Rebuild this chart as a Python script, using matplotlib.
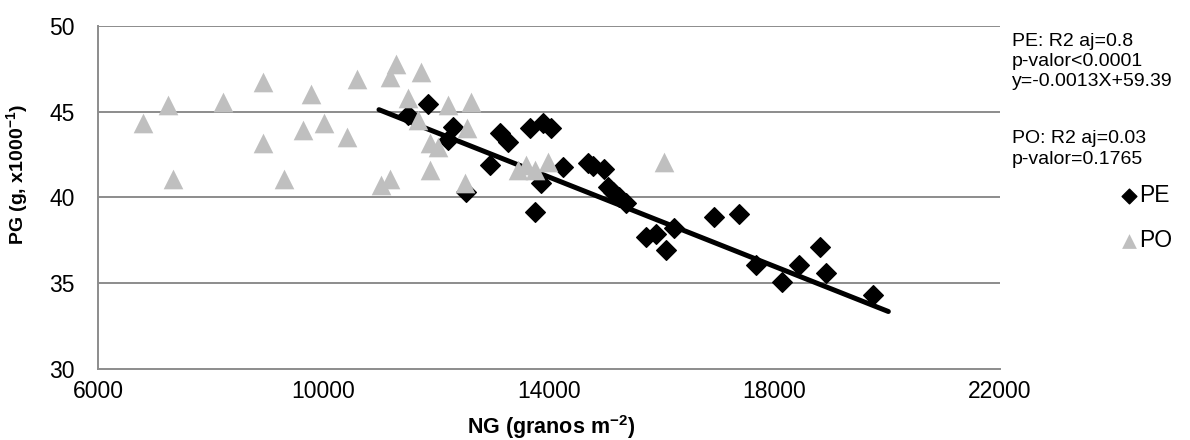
import numpy as np
import matplotlib
matplotlib.use('Agg')
import matplotlib.pyplot as plt

plt.rcParams['font.family'] = ['Liberation Sans', 'DejaVu Sans']
plt.rcParams['mathtext.fontset'] = 'custom'
plt.rcParams['mathtext.rm'] = 'Liberation Sans'
plt.rcParams['mathtext.bf'] = 'Liberation Sans:bold'

# PE series (NG, PG)
pe_ng = [11852, 11498, 12295, 12207, 13123, 13270, 13654, 13890, 14039, 12945,
         12533, 13861, 13743, 14244, 14687, 14776, 14983, 15041, 15130, 15249,
         15367, 15722, 15899, 16076, 16223, 16932, 17375, 17671, 18142, 18438,
         18805, 18912, 19749]
pe_pg = [45.44, 44.80, 44.12, 43.35, 43.74, 43.25, 44.03, 44.32, 44.03, 41.89,
         40.34, 40.83, 39.17, 41.79, 41.99, 41.83, 41.64, 40.63, 40.34, 40.05,
         39.70, 37.72, 37.88, 36.94, 38.21, 38.88, 39.04, 36.07, 35.10, 36.07,
         37.14, 35.62, 34.32]

# PO series (NG, PG)
po_ng = [6803, 7246, 7334, 8220, 8929, 8918, 9296, 9786, 9638, 10004,
         10417, 10594, 11280, 11174, 11027, 11174, 11735, 11498, 11675, 11882,
         11882, 12029, 12207, 12621, 12543, 12502, 13447, 13596, 13743, 13979,
         16034]
po_pg = [44.35, 45.38, 41.08, 45.58, 46.74, 43.19, 41.08, 46.02, 43.93, 44.32,
         43.54, 46.88, 47.77, 47.03, 40.73, 41.06, 47.32, 45.81, 44.51, 41.60,
         43.15, 42.96, 45.38, 45.58, 44.03, 40.86, 41.60, 41.89, 41.60, 42.08,
         42.08]

# PE linear fit
pe_slope = -0.0013
pe_intercept = 59.39
pe_fit_range = [10984, 20020]

x_ticks = [6000, 10000, 14000, 18000, 22000]
y_ticks = [30, 35, 40, 45, 50]

fig = plt.figure(figsize=(11.9, 4.4), dpi=100)
ax = fig.add_axes([0.0824, 0.1607, 0.7579, 0.7809])

grid_c = '#8c8c8c'
for yv in y_ticks[1:]:
    ax.axhline(yv, color=grid_c, lw=1.4, zorder=0)

ax.scatter(pe_ng, pe_pg, marker='D', s=100, color='black', zorder=2, label='PE')
fx = np.array(pe_fit_range)
ax.plot(fx, pe_slope * fx + pe_intercept, color='black', lw=3.6,
        solid_capstyle='round', zorder=3)
ax.scatter(po_ng, po_pg, marker='^', s=200, color='#bfbfbf', zorder=4,
           linewidths=0, label='PO')

ax.set_xlim(6000, 22000)
ax.set_ylim(30, 50)
ax.set_xticks(x_ticks)
ax.set_yticks(y_ticks)
ax.tick_params(length=0, labelsize=16.5)
ax.tick_params(axis='y', pad=17)
ax.tick_params(axis='x', pad=8)
for s in ['top', 'right']:
    ax.spines[s].set_visible(False)
for s in ['left', 'bottom']:
    ax.spines[s].set_color(grid_c)
    ax.spines[s].set_linewidth(1.4)

fig.text(551 / 1190, 1 - 434 / 440, r'NG (granos m$^{\mathbf{-2}}$)',
         fontsize=15.5, fontweight='bold', ha='center', va='baseline')
fig.text(18 / 1190, 1 - 175 / 440, r'PG (g, x1000$^{\mathbf{-1}}$)',
         fontsize=14, fontweight='bold', ha='center', va='center',
         rotation=90)

notes = [('PE: R2 aj=0.8', 41.5), ('p-valor<0.0001', 61), ('y=-0.0013X+59.39', 81),
         ('PO: R2 aj=0.03', 138), ('p-valor=0.1765', 160)]
for txt, py in notes:
    fig.text(1012 / 1190, 1 - py / 440, txt, fontsize=14, ha='left', va='center')

ax.legend(loc='center left', bbox_to_anchor=(1112 / 1190, 1 - 218 / 440),
          bbox_transform=fig.transFigure, frameon=False, fontsize=16.5,
          handlelength=0.5, handletextpad=0.2, labelspacing=0.95,
          markerscale=0.75, borderpad=0)

fig.savefig('out.png', dpi=100)
